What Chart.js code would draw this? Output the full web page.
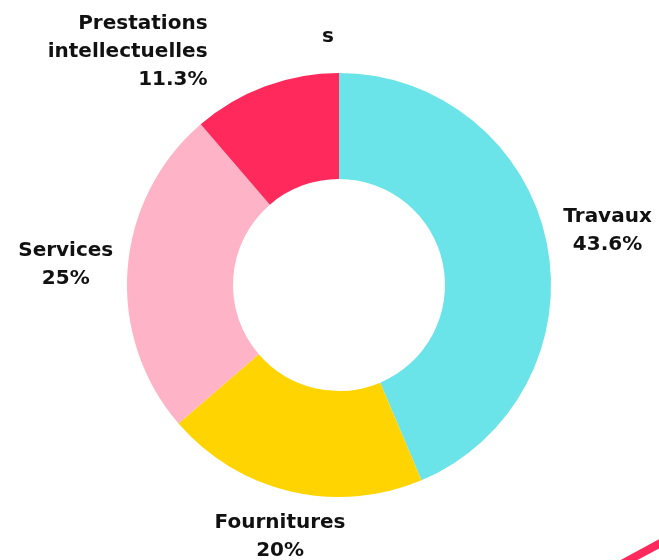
<!DOCTYPE html>
<html>
<head>
<meta charset="utf-8">
<script src="https://cdn.jsdelivr.net/npm/chart.js@4"></script>
<style>
  html, body { margin: 0; padding: 0; background: #fff; }
  #wrap { width: 659px; height: 560px; }
</style>
</head>
<body>
<div id="wrap"><canvas id="myChart" width="659" height="560"></canvas></div>
<script>
const categories = ['Travaux', 'Fournitures', 'Services', 'Prestations intellectuelles'];
const shares = [43.6, 20, 25, 11.3];
const valueLabels = ['43.6%', '20%', '25%', '11.3%'];
const colors = ['#6ae4e8', '#ffd400', '#ffb3c6', '#ff2a5b'];
const topText = 's';

// label lines per slice (name may wrap)
const labelLines = [
  ['Travaux'],
  ['Fournitures'],
  ['Services'],
  ['Prestations', 'intellectuelles']
];

const FONT = 'bold 20px "DejaVu Sans", sans-serif';
const LINE = 28;

const outsideLabels = {
  id: 'outsideLabels',
  afterDatasetsDraw(chart) {
    const ctx = chart.ctx;
    const meta = chart.getDatasetMeta(0);
    ctx.save();
    ctx.font = FONT;
    ctx.fillStyle = '#111';
    ctx.textBaseline = 'middle';
    meta.data.forEach((arc, i) => {
      const { x, y, startAngle, endAngle, outerRadius } = arc.getProps(['x', 'y', 'startAngle', 'endAngle', 'outerRadius'], true);
      const mid = (startAngle + endAngle) / 2;
      const lines = labelLines[i].concat([valueLabels[i]]);
      let cx, cy, align = 'center';
      if (i === 3) {
        // small slice near the top: label pushed up-left, right aligned
        cx = x - outerRadius * 0.62;
        cy = y - outerRadius * 1.1;
        align = 'right';
      } else {
        const dist = outerRadius + (i === 1 ? 47 : 62);
        cx = x + Math.cos(mid) * dist;
        cy = y + Math.sin(mid) * dist;
      }
      ctx.textAlign = align;
      const top = cy - (lines.length - 1) * LINE / 2;
      lines.forEach((t, k) => ctx.fillText(t, cx, top + k * LINE));
    });

    // stray title fragment at the top
    ctx.textAlign = 'center';
    ctx.fillText(topText, 328, 37);

    // decorative stroke in the bottom right corner
    ctx.strokeStyle = '#ff2a5b';
    ctx.lineWidth = 8;
    ctx.beginPath();
    ctx.moveTo(618, 566);
    ctx.lineTo(668, 539);
    ctx.stroke();
    ctx.restore();
  }
};

const ctx = document.getElementById('myChart').getContext('2d');
const chart = new Chart(ctx, {
  type: 'doughnut',
  data: {
    labels: categories,
    datasets: [{
      data: shares,
      backgroundColor: colors,
      borderWidth: 0
    }]
  },
  options: {
    responsive: false,
    animation: false,
    cutout: '50%',
    layout: { padding: { top: 73, bottom: 63, left: 19, right: 0 } },
    plugins: {
      legend: { display: false },
      tooltip: { enabled: false }
    }
  },
  plugins: [outsideLabels]
});
</script>
</body>
</html>
